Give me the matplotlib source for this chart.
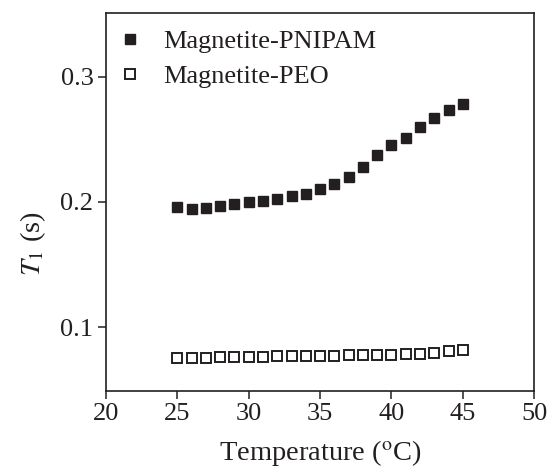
import numpy as np
import matplotlib
matplotlib.use('Agg')
import matplotlib.pyplot as plt

# data
temp = np.arange(25, 46)
t1_pnipam = [0.196, 0.194, 0.195, 0.197, 0.198, 0.200, 0.201, 0.202, 0.205, 0.206,
             0.210, 0.214, 0.220, 0.228, 0.237, 0.245, 0.251, 0.260, 0.267, 0.273, 0.278]
t1_peo = [0.075, 0.075, 0.0755, 0.0758, 0.076, 0.076, 0.0762, 0.0765, 0.0768, 0.077,
          0.077, 0.0772, 0.0775, 0.0778, 0.078, 0.078, 0.0783, 0.0786, 0.079, 0.0805, 0.0815]

plt.rcParams['font.family'] = ['Liberation Serif', 'DejaVu Serif']
plt.rcParams['mathtext.fontset'] = 'stix'

fig = plt.figure(figsize=(5.49, 4.71), dpi=100)
ax = fig.add_axes([0.193, 0.170, 0.780, 0.803])

ax.plot(temp, t1_pnipam, 's', color='#231f20', markersize=7.5, label='Magnetite-PNIPAM')
ax.plot(temp, t1_peo, 's', mfc='white', mec='#231f20', mew=1.4, markersize=7.5,
        label='Magnetite-PEO')

ax.set_xlim(20, 50)
ax.set_ylim(0.049, 0.351)
ax.set_xticks([20, 25, 30, 35, 40, 45, 50])
ax.set_yticks([0.1, 0.2, 0.3])
ax.set_yticklabels(['0.1', '0.2', '0.3'])
ax.tick_params(direction='out', length=6, width=1.1, labelsize=19, pad=3,
               colors='#231f20', top=False, right=False)
for s in ax.spines.values():
    s.set_linewidth(1.2)
    s.set_color('#231f20')

ax.set_xlabel(r'Temperature ($^{\rm o}$C)', fontsize=20.5, color='#231f20', labelpad=9)
ax.set_ylabel(r'$T_{\rm 1}$ (s)', fontsize=20.5, color='#231f20')
ax.yaxis.set_label_coords(-0.135, 0.39)

ax.legend(loc='upper left', bbox_to_anchor=(-0.015, 1.0), frameon=False, fontsize=19,
          handlelength=1.0, handletextpad=0.75, labelspacing=0.42, borderaxespad=0.25,
          labelcolor='#231f20')

fig.savefig('out.png', dpi=100)
